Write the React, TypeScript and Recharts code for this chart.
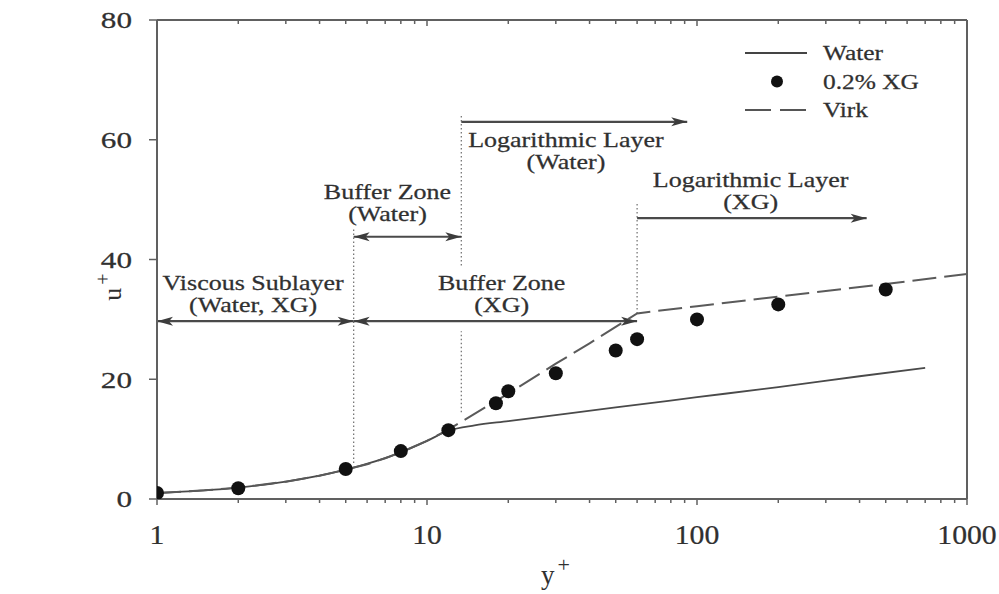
import {
  ComposedChart,
  Line,
  Scatter,
  XAxis,
  YAxis,
  ReferenceLine,
  ReferenceDot
} from "recharts";

const FONT = '"Liberation Serif", "Times New Roman", serif';
const INK = "#303030";
const AXIS = "#606060";

// 0.2% XG measurements (y+, u+)
const xgPoints = [
  { yp: 1, up: 1.0 },
  { yp: 2, up: 1.8 },
  { yp: 5, up: 5.0 },
  { yp: 8, up: 8.0 },
  { yp: 12, up: 11.5 },
  { yp: 18, up: 16.0 },
  { yp: 20, up: 18.0 },
  { yp: 30, up: 21.0 },
  { yp: 50, up: 24.8 },
  { yp: 60, up: 26.7 },
  { yp: 100, up: 30.0 },
  { yp: 200, up: 32.5 },
  { yp: 500, up: 35.0 }
];

// water profile (solid)
const waterCurve = [
  { yp: 1, up: 1.0 },
  { yp: 2, up: 1.9 },
  { yp: 3, up: 2.9 },
  { yp: 5, up: 4.9 },
  { yp: 8, up: 7.8 },
  { yp: 10, up: 9.7 },
  { yp: 12, up: 11.4 },
  { yp: 15, up: 12.3 },
  { yp: 20, up: 13.0 },
  { yp: 50, up: 15.3 },
  { yp: 100, up: 17.0 },
  { yp: 200, up: 18.7 },
  { yp: 400, up: 20.5 },
  { yp: 700, up: 21.9 }
];

// Virk asymptote (dashed)
const virkCurve = [
  { yp: 1, up: 1.0 },
  { yp: 1.5, up: 1.45 },
  { yp: 2, up: 1.9 },
  { yp: 3, up: 2.9 },
  { yp: 4, up: 3.9 },
  { yp: 5, up: 4.9 },
  { yp: 6, up: 5.8 },
  { yp: 7, up: 6.8 },
  { yp: 8, up: 7.8 },
  { yp: 10, up: 9.7 },
  { yp: 12, up: 11.6 },
  { yp: 20, up: 17.6 },
  { yp: 30, up: 22.6 },
  { yp: 40, up: 26.0 },
  { yp: 60, up: 31.0 },
  { yp: 100, up: 32.2 },
  { yp: 200, up: 33.8 },
  { yp: 500, up: 35.9 },
  { yp: 1000, up: 37.6 }
];

const xTicks = [
  1, 2, 3, 4, 5, 6, 7, 8, 9,
  10, 20, 30, 40, 50, 60, 70, 80, 90,
  100, 200, 300, 400, 500, 600, 700, 800, 900,
  1000
];
const xLabels = [1, 10, 100, 1000];
const yTicks = [0, 20, 40, 60, 80];

// zone boundaries (dotted verticals)
const zoneBounds = [
  { yp: 5.35, from: 6.0, to: 45.3 },
  { yp: 13.4, from: 14.5, to: 28.0 },
  { yp: 13.4, from: 39.0, to: 64.2 },
  { yp: 60, from: 31.0, to: 49.4 }
];

// zone extents (arrows)
const zoneArrows = [
  { from: 1, to: 5.35, up: 29.7, both: true },
  { from: 5.35, to: 60, up: 29.7, both: true },
  { from: 5.35, to: 13.4, up: 43.8, both: true },
  { from: 13.4, to: 92, up: 63.0, both: false },
  { from: 60, to: 425, up: 46.9, both: false }
];

const zoneLabels = [
  { yp: 2.27, up: 36.1, lines: ["Viscous Sublayer", "(Water, XG)"] },
  { yp: 7.14, up: 51.3, lines: ["Buffer Zone", "(Water)"] },
  { yp: 18.9, up: 36.1, lines: ["Buffer Zone", "(XG)"] },
  { yp: 32.7, up: 59.9, lines: ["Logarithmic Layer", "(Water)"] },
  { yp: 158, up: 53.3, lines: ["Logarithmic Layer", "(XG)"] }
];

const legendItems = [
  { name: "Water", kind: "solid" },
  { name: "0.2% XG", kind: "dot" },
  { name: "Virk", kind: "dash" }
];

// stretched serif text, the source figure is widened horizontally
function SText({ x, y, size, sx = 1.3, anchor = "middle", fill = INK, children }: any) {
  return (
    <text
      transform={`translate(${x},${y}) scale(${sx},1)`}
      x={0}
      y={0}
      dy="0.35em"
      textAnchor={anchor}
      fontSize={size}
      fontFamily={FONT}
      fill={fill}
      stroke={fill}
      strokeWidth={0.25}
    >
      {children}
    </text>
  );
}

const BottomTick = ({ x, y, payload }: any) => {
  const major = xLabels.includes(payload.value);
  return (
    <g>
      <line x1={x} x2={x} y1={y} y2={y + (major ? 6 : 4)} stroke={AXIS} strokeWidth={1.5} />
      {major && (
        <SText x={x} y={y + 36} size={27} sx={1.1}>
          {payload.value}
        </SText>
      )}
    </g>
  );
};

const TopTick = ({ x, y, payload }: any) => {
  const major = xLabels.includes(payload.value);
  return <line x1={x} x2={x} y1={y} y2={y + (major ? 6 : 4)} stroke={AXIS} strokeWidth={1.5} />;
};

const LeftTick = ({ x, y, payload }: any) => (
  <g>
    <line x1={x} x2={x - 8} y1={y} y2={y} stroke={AXIS} strokeWidth={1.5} />
    <SText x={x - 25} y={y} size={24} sx={1.3} anchor="end">
      {payload.value}
    </SText>
  </g>
);

const arrowHead = (tx: number, ty: number, dir: number) => {
  const len = 16;
  const hw = 4.5;
  return (
    <polygon
      points={`${tx},${ty} ${tx - dir * len},${ty - hw} ${tx - dir * (len - 4)},${ty} ${tx - dir * len},${ty + hw}`}
      fill="#3c3c3c"
    />
  );
};

const arrowShape = (both: boolean) => (p: any) => {
  const { x1, y1, x2, y2 } = p;
  return (
    <g>
      <line x1={x1} y1={y1} x2={x2} y2={y2} stroke="#4a4a4a" strokeWidth={2.2} />
      {arrowHead(x2, y2, 1)}
      {both && arrowHead(x1, y1, -1)}
    </g>
  );
};

const labelShape = (lines: string[]) => (p: any) => (
  <g>
    {lines.map((t, i) => (
      <SText key={i} x={p.cx} y={p.cy + i * 22} size={20} sx={1.3}>
        {t}
      </SText>
    ))}
  </g>
);

const LegendBox = () => (
  <svg width={230} height={95} style={{ position: "absolute", left: 740, top: 35 }}>
    {legendItems.map((it, i) => {
      const cy = 18 + i * 28.5;
      return (
        <g key={it.name}>
          {it.kind === "solid" && <line x1={5} x2={67} y1={cy} y2={cy} stroke="#444" strokeWidth={2} />}
          {it.kind === "dash" && (
            <line x1={5} x2={67} y1={cy} y2={cy} stroke="#555" strokeWidth={2} strokeDasharray="26 9" />
          )}
          {it.kind === "dot" && <circle cx={37} cy={cy} r={6} fill="#111" />}
          <SText x={83} y={cy} size={20} sx={1.27} anchor="start">
            {it.name}
          </SText>
        </g>
      );
    })}
  </svg>
);

const YTitle = () => {
  const cx = 112;
  const cy = 287;
  return (
    <text
      transform={`rotate(-90, ${cx}, ${cy})`}
      x={cx}
      y={cy}
      dy="0.35em"
      textAnchor="middle"
      fontSize={26}
      fontFamily={FONT}
      fill={INK}
    >
      u<tspan dx={3} dy={-11} fontSize={20}>+</tspan>
    </text>
  );
};

const XTitle = () => (
  <text x={541} y={584} fontSize={27} fontFamily={FONT} fill={INK}>
    y<tspan dx={3} dy={-12} fontSize={22}>+</tspan>
  </text>
);

export default function App() {
  return (
    <div style={{ position: "absolute", left: 0, top: 0, width: 999, height: 594, background: "#fff" }}>
      <ComposedChart
        width={999}
        height={594}
        margin={{ top: 19, right: 31, left: 97, bottom: 35 }}
      >
        <XAxis
          dataKey="yp"
          type="number"
          scale="log"
          domain={[1, 1000]}
          allowDataOverflow
          ticks={xTicks}
          interval={0}
          tickSize={0}
          tickMargin={0}
          tick={<BottomTick />}
          axisLine={{ stroke: AXIS, strokeWidth: 2 }}
          height={60}
          label={<XTitle />}
        />
        <XAxis
          xAxisId="top"
          orientation="top"
          dataKey="yp"
          type="number"
          scale="log"
          domain={[1, 1000]}
          allowDataOverflow
          ticks={xTicks}
          interval={0}
          tickSize={0}
          tickMargin={0}
          tick={<TopTick />}
          axisLine={{ stroke: AXIS, strokeWidth: 2 }}
          height={1}
        />
        <YAxis
          type="number"
          domain={[0, 80]}
          allowDataOverflow
          ticks={yTicks}
          interval={0}
          tickSize={0}
          tickMargin={0}
          tick={<LeftTick />}
          axisLine={{ stroke: AXIS, strokeWidth: 2 }}
          width={60}
          label={<YTitle />}
        />
        <YAxis
          yAxisId="right"
          orientation="right"
          type="number"
          domain={[0, 80]}
          allowDataOverflow
          ticks={yTicks}
          tick={false}
          tickLine={false}
          axisLine={{ stroke: AXIS, strokeWidth: 2 }}
          width={1}
        />

        {zoneBounds.map((b, i) => (
          <ReferenceLine
            key={`b${i}`}
            segment={[{ x: b.yp, y: b.from }, { x: b.yp, y: b.to }]}
            stroke="#777"
            strokeWidth={1.3}
            strokeDasharray="1.5 2.5"
          />
        ))}
        {zoneArrows.map((a, i) => (
          <ReferenceLine
            key={`a${i}`}
            segment={[{ x: a.from, y: a.up }, { x: a.to, y: a.up }]}
            shape={arrowShape(a.both)}
          />
        ))}
        {zoneLabels.map((l, i) => (
          <ReferenceDot key={`l${i}`} x={l.yp} y={l.up} r={0} shape={labelShape(l.lines)} />
        ))}

        <Line
          data={waterCurve}
          dataKey="up"
          name="Water"
          type="monotone"
          stroke="#4a4a4a"
          strokeWidth={1.8}
          dot={false}
          isAnimationActive={false}
        />
        <Line
          data={virkCurve}
          dataKey="up"
          name="Virk"
          type="linear"
          stroke="#5a5a5a"
          strokeWidth={2}
          strokeDasharray="24 8"
          dot={false}
          isAnimationActive={false}
        />
        <Scatter
          data={xgPoints}
          dataKey="up"
          name="0.2% XG"
          fill="#111"
          shape={(p: any) => <circle cx={p.cx} cy={p.cy} r={7} fill="#111" />}
          isAnimationActive={false}
        />
        {/* invisible series on the top/right axes so the frame gets drawn */}
        <Line
          xAxisId="top"
          yAxisId="right"
          data={xgPoints}
          dataKey="up"
          stroke="none"
          dot={false}
          legendType="none"
          isAnimationActive={false}
        />
      </ComposedChart>
      <LegendBox />
    </div>
  );
}
